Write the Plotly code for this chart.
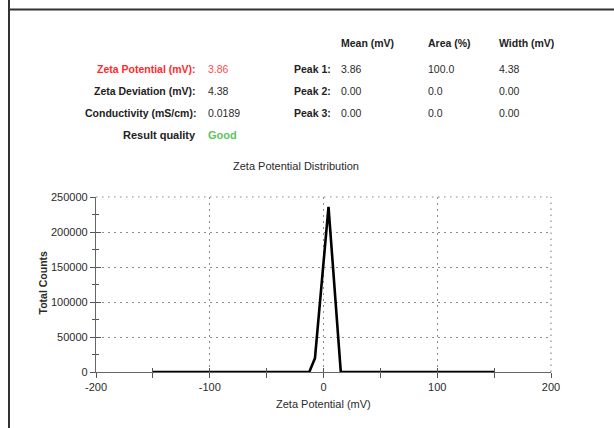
import plotly.graph_objects as go

# ---- data ----
zeta_mv = [-150, -12.5, -7.5, 4.4, 15.2, 150]
total_counts = [0, 0, 19700, 236000, 0, 0]

x_ticks = [-200, -100, 0, 100, 200]
x_tick_text = ["-200", "-100", "0", "100", "200"]
y_ticks = [0, 50000, 100000, 150000, 200000, 250000]
y_tick_text = ["0", "50000", "100000", "150000", "200000", "250000"]

summary_labels = ["Zeta Potential (mV):", "Zeta Deviation (mV):", "Conductivity (mS/cm):", "Result quality"]
summary_values = ["3.86", "4.38", "0.0189", "Good"]
peak_labels = ["Peak 1:", "Peak 2:", "Peak 3:"]
peak_headers = ["Mean (mV)", "Area (%)", "Width (mV)"]
peak_mean = ["3.86", "0.00", "0.00"]
peak_area = ["100.0", "0.0", "0.0"]
peak_width = ["4.38", "0.00", "0.00"]

# ---- layout geometry (pixels) ----
W, H = 614, 428
L, R, T, B = 96, 551, 197, 372  # plot area edges in px


def px(x):
    return (x - L) / (R - L)


def py(y):
    return (B - y) / (B - T)


FONT = "Liberation Sans, Arial, sans-serif"
TXT = "#2a2a2a"
GRID = "#8c8c8c"
DOTS = "1.5px,4.5px"

fig = go.Figure()
fig.add_trace(go.Scatter(x=zeta_mv, y=total_counts, mode="lines",
                         line=dict(color="black", width=2.6), showlegend=False,
                         hoverinfo="skip"))
# invisible trace for overlay axis (inside ticks)
fig.add_trace(go.Scatter(x=[None], y=[None], xaxis="x2", yaxis="y2", showlegend=False))

axis_common = dict(showline=True, linecolor="#666666", linewidth=1.3,
                   gridcolor=GRID, griddash=DOTS, gridwidth=1.2,
                   zeroline=False, tickcolor="#555555", tickwidth=1,
                   tickfont=dict(family=FONT, size=11, color=TXT), layer="below traces")

fig.update_layout(
    width=W, height=H,
    margin=dict(l=L, r=W - R, t=T, b=H - B, pad=0),
    paper_bgcolor="white", plot_bgcolor="white",
    xaxis=dict(range=[-200, 200], tickvals=x_ticks, ticktext=x_tick_text, ticks="outside", ticklen=5,
               minor=dict(ticks="outside", ticklen=5, dtick=50, tick0=0, tickcolor="#555555", showgrid=False),
               showgrid=True, **axis_common),
    yaxis=dict(range=[0, 250000], tickvals=y_ticks, ticktext=y_tick_text, ticks="outside", ticklen=5,
               minor=dict(ticks="outside", ticklen=3, dtick=25000, tick0=0, tickcolor="#555555", showgrid=False),
               showgrid=True, **axis_common),
    xaxis2=dict(range=[-200, 200], overlaying="x", anchor="y2", tickvals=x_ticks, ticks="inside",
                ticklen=4, showticklabels=False, showgrid=False, zeroline=False, showline=False,
                tickcolor="#555555",
                minor=dict(ticks="inside", ticklen=4, dtick=50, tick0=0, tickcolor="#555555")),
    yaxis2=dict(range=[0, 250000], overlaying="y", anchor="x2", tickvals=y_ticks, ticks="inside",
                ticklen=5, showticklabels=False, showgrid=False, zeroline=False, showline=False,
                tickcolor="#555555",
                minor=dict(ticks="inside", ticklen=3, dtick=25000, tick0=0, tickcolor="#555555")),
)

ann = []


def add_text(x, y, text, color=TXT, bold=False, size=10.5, anchor="left", angle=0):
    t = "<b>%s</b>" % text if bold else text
    ann.append(dict(x=px(x), y=py(y), xref="paper", yref="paper", text=t, showarrow=False,
                    xanchor=anchor, yanchor="middle", textangle=angle,
                    font=dict(family=FONT, size=size, color=color)))


row_y = [69, 91, 113, 135]
label_colors = ["#ff2a2a", "#222222", "#222222", "#222222"]
value_colors = ["#ff4d4d", TXT, TXT, "#5cc45c"]
for i in range(4):
    add_text(198, row_y[i], summary_labels[i], color=label_colors[i], bold=True, anchor="right",
             size=11 if i == 3 else 10.5)
    add_text(206, row_y[i], summary_values[i], color=value_colors[i], bold=(i == 3),
             size=11 if i == 3 else 10.5)

col_x = [339, 426, 497]
for j in range(3):
    add_text(col_x[j], 42.5, peak_headers[j], color="#222222", bold=True)
for i in range(3):
    add_text(291.5, row_y[i], peak_labels[i], color="#222222", bold=True)
    add_text(col_x[0], row_y[i], peak_mean[i])
    add_text(col_x[1], row_y[i], peak_area[i])
    add_text(col_x[2], row_y[i], peak_width[i])

add_text(296, 165.5, "Zeta Potential Distribution", size=11, anchor="center")
add_text(323, 403.5, "Zeta Potential (mV)", size=11, anchor="center")
add_text(42.5, 283, "Total Counts", size=10.5, anchor="center", angle=-90, bold=True)

fig.update_layout(annotations=ann)

# dotted grid lines at the top and right edges of the plot area
fig.add_shape(type="line", xref="paper", yref="paper", x0=0, x1=1, y0=1, y1=1,
              line=dict(color=GRID, width=1.2, dash=DOTS), layer="below")
fig.add_shape(type="line", xref="paper", yref="paper", x0=1, x1=1, y0=0, y1=1,
              line=dict(color=GRID, width=1.2, dash=DOTS), layer="below")

# frame lines of the report
fig.add_shape(type="line", xref="paper", yref="paper", x0=px(9), x1=px(9), y0=py(0), y1=py(H),
              line=dict(color="#333333", width=2))
fig.add_shape(type="line", xref="paper", yref="paper", x0=px(9), x1=px(W + 5), y0=py(9.5), y1=py(9.5),
              line=dict(color="#333333", width=2))

fig.write_html("out.html")
